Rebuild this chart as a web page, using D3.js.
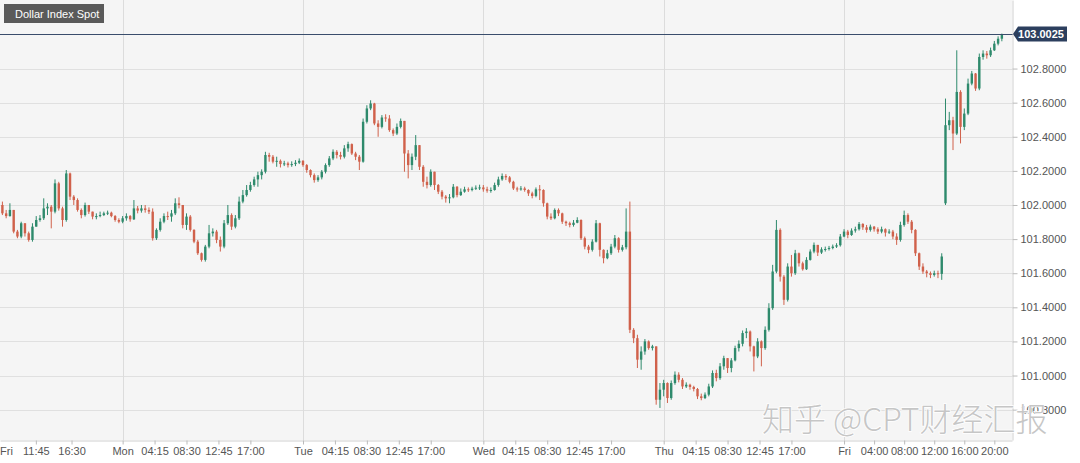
<!DOCTYPE html>
<html>
<head>
<meta charset="utf-8">
<script src="https://cdn.jsdelivr.net/npm/d3@7"></script>
<style>
  body { margin: 0; background: #fff; }
  svg { display: block; font-family: Arial, "Liberation Sans", sans-serif; }
</style>
</head>
<body>
<div id="chart"></div>
<script>
// 30-minute candles, hours counted from Monday 00:00 (weekend collapsed)
const candleStart = -16;
const candleStep = 0.5;
const firstOpen = 102.0;
const gapOpens = { 251: 102.01 }; // Friday 13:30 jump opens away from previous close

const closes = [
  // Fri
  101.951,101.935,101.971,101.844,101.815,101.893,101.834,101.795,101.873,101.912,101.922,101.980,101.990,101.961,102.127,101.980,
  101.912,102.185,102.049,102.029,101.971,101.941,102.000,101.961,101.932,101.935,101.941,101.951,101.955,101.935,101.912,101.902,
  // Mon
  101.922,101.935,101.916,101.980,101.967,101.980,101.971,101.961,101.805,101.854,101.902,101.935,101.932,101.951,102.010,102.000,
  101.883,101.932,101.854,101.785,101.717,101.678,101.756,101.834,101.844,101.795,101.756,101.893,101.941,101.873,101.922,102.020,
  102.058,102.088,102.117,102.150,102.175,102.195,102.293,102.283,102.254,102.259,102.240,102.244,102.234,102.240,102.248,102.259,
  // Tue
  102.234,102.205,102.175,102.146,102.162,102.195,102.234,102.273,102.312,102.293,102.283,102.332,102.357,102.302,102.283,102.254,
  102.488,102.566,102.595,102.478,102.458,102.513,102.507,102.439,102.419,102.458,102.493,102.302,102.234,102.283,102.351,102.224,
  102.136,102.117,102.195,102.117,102.078,102.049,102.039,102.045,102.107,102.058,102.078,102.092,102.088,102.096,102.101,102.103,
  // Wed
  102.092,102.084,102.088,102.117,102.150,102.170,102.162,102.136,102.097,102.092,102.097,102.088,102.068,102.053,102.092,102.088,
  102.010,101.932,101.922,101.971,101.951,101.902,101.893,101.883,101.896,101.912,101.805,101.756,101.737,101.785,101.893,101.737,
  101.688,101.717,101.756,101.805,101.737,101.752,101.844,101.268,101.219,101.093,101.141,101.200,101.161,101.171,100.858,100.917,
  // Thu
  100.956,100.868,100.956,101.005,100.975,100.936,100.946,100.933,100.921,100.878,100.868,100.888,100.936,101.015,100.985,101.054,
  101.102,101.044,101.089,101.161,101.186,101.249,101.258,101.171,101.112,101.200,101.161,101.268,101.395,101.610,101.854,101.580,
  101.444,101.639,101.600,101.717,101.658,101.623,101.678,101.727,101.766,101.721,101.740,101.742,101.748,101.756,101.764,101.815,
  // Fri
  101.844,101.824,101.850,101.858,101.889,101.869,101.854,101.873,101.858,101.844,101.858,101.838,101.844,101.815,101.795,101.883,
  101.941,101.902,101.854,101.717,101.639,101.610,101.600,101.590,101.600,101.596,101.698,102.468,102.497,102.419,102.663,102.458,
  102.536,102.712,102.771,102.683,102.868,102.888,102.878,102.907,102.946,102.975,103.0025
];

const highs = [
  102.020,101.971,102.010,101.971,101.854,101.902,101.893,101.844,101.893,101.935,101.941,102.039,102.010,102.000,102.150,102.136,
  101.990,102.205,102.190,102.058,102.039,101.980,102.014,102.000,101.961,101.951,101.961,101.961,101.967,101.961,101.941,101.922,
  101.935,101.951,101.941,102.029,101.994,102.000,102.000,101.986,101.980,101.863,101.922,101.951,101.961,101.971,102.039,102.045,
  102.000,101.951,101.941,101.858,101.795,101.721,101.766,101.883,101.863,101.854,101.815,101.912,102.000,101.951,101.941,102.049,
  102.088,102.117,102.136,102.166,102.195,102.209,102.312,102.306,102.293,102.283,102.267,102.259,102.254,102.256,102.263,102.273,
  102.263,102.240,102.209,102.185,102.175,102.205,102.244,102.287,102.326,102.322,102.312,102.351,102.371,102.361,102.312,102.293,
  102.507,102.585,102.614,102.599,102.497,102.527,102.532,102.527,102.449,102.478,102.507,102.488,102.322,102.302,102.410,102.351,
  102.234,102.166,102.209,102.195,102.123,102.088,102.058,102.064,102.123,102.111,102.097,102.107,102.103,102.107,102.115,102.119,
  102.117,102.107,102.103,102.131,102.166,102.185,102.181,102.170,102.142,102.107,102.111,102.107,102.092,102.078,102.103,102.117,
  102.092,102.014,101.951,101.980,101.980,101.955,101.908,101.902,101.912,101.928,101.916,101.815,101.766,101.799,101.912,101.896,
  101.740,101.737,101.772,101.824,101.811,101.766,101.980,102.020,101.278,101.239,101.171,101.214,101.206,101.180,101.171,100.956,
  100.975,100.960,100.971,101.024,101.019,100.985,100.960,100.952,100.940,100.927,100.894,100.901,100.952,101.030,101.034,101.073,
  101.116,101.102,101.102,101.175,101.206,101.264,101.278,101.264,101.175,101.219,101.206,101.288,101.424,101.649,101.912,101.863,
  101.590,101.658,101.707,101.737,101.721,101.668,101.694,101.740,101.780,101.766,101.752,101.756,101.760,101.768,101.776,101.830,
  101.858,101.854,101.863,101.873,101.900,101.893,101.883,101.885,101.877,101.869,101.873,101.863,101.858,101.854,101.834,101.902,
  101.967,101.951,101.912,101.858,101.721,101.658,101.619,101.610,101.615,101.615,101.717,102.624,102.546,102.517,102.907,102.673,
  102.566,102.741,102.786,102.774,102.888,102.907,102.903,102.923,102.962,102.989,103.005
];

const lows = [
  101.941,101.922,101.932,101.834,101.805,101.805,101.815,101.785,101.785,101.873,101.902,101.912,101.941,101.863,101.951,101.967,
  101.873,101.902,102.029,102.000,101.961,101.922,101.932,101.947,101.916,101.916,101.928,101.935,101.941,101.928,101.902,101.893,
  101.893,101.908,101.902,101.912,101.951,101.955,101.955,101.947,101.791,101.795,101.844,101.893,101.912,101.902,101.941,101.980,
  101.863,101.854,101.844,101.776,101.707,101.668,101.668,101.746,101.815,101.776,101.727,101.746,101.883,101.854,101.863,101.912,
  102.010,102.049,102.078,102.107,102.107,102.150,102.185,102.254,102.244,102.224,102.220,102.228,102.220,102.224,102.228,102.240,
  102.224,102.189,102.162,102.131,102.136,102.150,102.185,102.224,102.263,102.273,102.267,102.273,102.312,102.293,102.263,102.205,
  102.248,102.478,102.556,102.468,102.400,102.449,102.488,102.429,102.404,102.410,102.449,102.195,102.156,102.205,102.263,102.205,
  102.107,102.097,102.107,102.088,102.064,102.033,102.014,102.010,102.039,102.045,102.053,102.072,102.076,102.080,102.088,102.088,
  102.078,102.072,102.072,102.084,102.107,102.142,102.146,102.127,102.088,102.078,102.084,102.078,102.053,102.039,102.045,102.029,
  101.990,101.916,101.912,101.916,101.935,101.889,101.877,101.869,101.873,101.893,101.795,101.740,101.717,101.727,101.780,101.698,
  101.658,101.682,101.707,101.746,101.721,101.727,101.740,101.249,101.190,101.044,101.034,101.122,101.151,101.147,100.829,100.810,
  100.878,100.839,100.858,100.946,100.960,100.921,100.927,100.917,100.907,100.862,100.855,100.862,100.878,100.927,100.966,100.975,
  101.034,101.015,101.019,101.083,101.141,101.171,101.219,101.141,101.024,101.102,101.054,101.151,101.258,101.385,101.600,101.551,
  101.414,101.434,101.580,101.590,101.639,101.615,101.619,101.674,101.717,101.701,101.713,101.727,101.733,101.740,101.748,101.756,
  101.811,101.805,101.819,101.838,101.850,101.854,101.838,101.844,101.844,101.830,101.834,101.815,101.830,101.799,101.766,101.785,
  101.873,101.889,101.834,101.701,101.619,101.596,101.576,101.571,101.580,101.571,101.561,102.000,102.439,102.322,102.410,102.361,
  102.439,102.527,102.702,102.669,102.673,102.852,102.858,102.868,102.903,102.936,102.960
];

const lastPrice = 103.0025;
const priceTicks = [100.8, 101.0, 101.2, 101.4, 101.6, 101.8, 102.0, 102.2, 102.4, 102.6, 102.8];
const tickLabels = ["11:45","16:30","Mon","04:15","08:30","12:45","17:00","Tue","04:15","08:30","12:45","17:00",
                    "Wed","04:15","08:30","12:45","17:00","Thu","04:15","08:30","12:45","17:00",
                    "Fri","04:00","08:00","12:00","16:00","20:00"];
const tickHours = [-11.55,-6.8,0,4.25,8.5,12.75,17,24,28.25,32.5,36.75,41,
                   48,52.25,56.5,60.75,65,72,76.25,80.5,84.75,89,
                   96,100,104,108,112,116];
const dayStarts = [0, 24, 48, 72, 96];

const width = 1080, height = 463;
const plotRight = 1012, plotBottom = 440;

const svg = d3.select("#chart").append("svg")
  .attr("width", width).attr("height", height);

let x = d3.scaleLinear().domain([-16.32, 118.35]).range([0, plotRight]);
let y = d3.scaleLinear().domain([100.622, 103.202]).range([plotBottom, 0]);

// plot background
svg.append("rect")
  .attr("x", 0).attr("y", 0).attr("width", plotRight).attr("height", plotBottom)
  .attr("fill", "#f5f5f5");

// grid
svg.append("g").selectAll("line").data(priceTicks).join("line")
  .attr("x1", 0).attr("x2", plotRight)
  .attr("y1", d => Math.round(y(d)) + 0.5).attr("y2", d => Math.round(y(d)) + 0.5)
  .attr("stroke", "#e0e0e0");

svg.append("g").selectAll("line").data(dayStarts).join("line")
  .attr("x1", d => Math.round(x(d)) + 0.5).attr("x2", d => Math.round(x(d)) + 0.5)
  .attr("y1", 0).attr("y2", plotBottom)
  .attr("stroke", "#dcdcdc");

// candles
const candles = closes.map((c, i) => {
  let o = i === 0 ? firstOpen : (gapOpens[i] !== undefined ? gapOpens[i] : closes[i - 1]);
  return { t: candleStart + i * candleStep, o: o, h: highs[i], l: lows[i], c: c };
});

const up = "#2e8a6c", down = "#d0614b";
const bodyW = 2.4;

const cg = svg.append("g");
cg.selectAll("line").data(candles).join("line")
  .attr("x1", d => x(d.t)).attr("x2", d => x(d.t))
  .attr("y1", d => y(Math.max(d.h, d.o, d.c)))
  .attr("y2", d => y(Math.min(d.l, d.o, d.c)))
  .attr("stroke", d => d.c >= d.o ? up : down)
  .attr("stroke-width", 1);

cg.selectAll("rect").data(candles).join("rect")
  .attr("x", d => x(d.t) - bodyW / 2)
  .attr("width", bodyW)
  .attr("y", d => y(Math.max(d.o, d.c)))
  .attr("height", d => Math.max(1, Math.abs(y(d.o) - y(d.c))))
  .attr("fill", d => d.c >= d.o ? up : down);

// last price line
svg.append("line")
  .attr("x1", 0).attr("x2", plotRight + 1)
  .attr("y1", Math.round(y(lastPrice)) + 0.5).attr("y2", Math.round(y(lastPrice)) + 0.5)
  .attr("stroke", "#3a4d6c");

// y axis (right)
const yAxis = svg.append("g")
  .attr("transform", `translate(${plotRight + 0.5},0)`)
  .call(d3.axisRight(y).tickValues(priceTicks).tickSize(5).tickSizeOuter(0)
    .tickFormat(d3.format(".4f")));
yAxis.select(".domain").attr("stroke", "#cfcfcf");
yAxis.selectAll(".tick line").attr("stroke", "#bbb");
yAxis.selectAll("text").attr("fill", "#555").attr("font-size", 11)
  .attr("font-family", "Arial, 'Liberation Sans', sans-serif");

// x axis
const xAxis = svg.append("g")
  .attr("transform", `translate(0,${plotBottom + 0.5})`)
  .call(d3.axisBottom(x).tickValues(tickHours).tickSize(4).tickSizeOuter(0)
    .tickFormat((d, i) => tickLabels[i]));
xAxis.select(".domain").attr("stroke", "#cfcfcf");
xAxis.selectAll(".tick line").attr("stroke", "#bbb");
xAxis.selectAll("text").attr("fill", "#555").attr("font-size", 11)
  .attr("font-family", "Arial, 'Liberation Sans', sans-serif");

svg.append("text")
  .attr("x", 0).attr("y", 455)
  .attr("fill", "#555").attr("font-size", 11)
  .text("Fri");

// last price tag
const ly = y(lastPrice);
svg.append("path")
  .attr("d", `M${plotRight + 1},${ly} L${plotRight + 6},${ly - 7.5} L1067,${ly - 7.5} L1067,${ly + 7.5} L${plotRight + 6},${ly + 7.5} Z`)
  .attr("fill", "#2c3f5e");
svg.append("text")
  .attr("x", 1041).attr("y", ly + 4)
  .attr("text-anchor", "middle")
  .attr("fill", "#fff").attr("font-size", 11).attr("font-weight", "bold")
  .text(d3.format(".4f")(lastPrice));

// legend
svg.append("rect")
  .attr("x", 4).attr("y", 4).attr("width", 100).attr("height", 19)
  .attr("fill", "#5a5a5a");
svg.append("text")
  .attr("x", 15).attr("y", 17.5)
  .attr("fill", "#fff").attr("font-size", 11)
  .text("Dollar Index Spot");

// watermark (sits over the lowest price label, as in the source image)
svg.append("text")
  .attr("x", 762).attr("y", 431)
  .attr("font-family", "'Noto Sans CJK SC', sans-serif").attr("font-size", 32).attr("font-weight", 300)
  .attr("fill", "#c6c6c6")
  .attr("stroke", "#fff").attr("stroke-width", 1.5).attr("paint-order", "stroke")
  .text("知乎 @CPT财经汇报");
</script>
</body>
</html>
